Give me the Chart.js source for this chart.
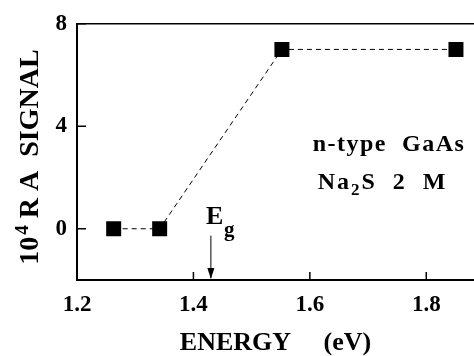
<!DOCTYPE html>
<html>
<head>
<meta charset="utf-8">
<script src="https://cdn.jsdelivr.net/npm/chart.js@4.4.1/dist/chart.umd.min.js"></script>
<style>
  html, body { margin: 0; padding: 0; background: #fff; }
  #wrap { width: 474px; height: 356px; }
</style>
</head>
<body>
<div id="wrap"><canvas id="chart"></canvas></div>
<script>
// data
var energy = [1.263, 1.342, 1.552, 1.851];
var signal = [0, 0, 7, 7];
var xTicks = [1.2, 1.4, 1.6, 1.8];
var yTicks = [0, 4, 8];
var egEnergy = 1.43;

var FONT = '"Liberation Serif", "Times New Roman", serif';

// inward ticks, top frame line, y title, labels and Eg arrow
var decorPlugin = {
  id: 'decor',
  afterDraw: function(chart) {
    var ctx = chart.ctx;
    var xs = chart.scales.x, ys = chart.scales.y;
    var a = chart.chartArea;
    ctx.save();
    ctx.strokeStyle = '#000';
    ctx.lineWidth = 1.5;
    ctx.beginPath();
    ctx.moveTo(a.left, a.top);
    ctx.lineTo(a.right, a.top);
    ctx.stroke();

    ctx.beginPath();
    xTicks.forEach(function(v) {
      var px = xs.getPixelForValue(v);
      ctx.moveTo(px, a.bottom);
      ctx.lineTo(px, a.bottom - 8);
    });
    yTicks.forEach(function(v) {
      var py = ys.getPixelForValue(v);
      ctx.moveTo(a.left, py);
      ctx.lineTo(a.left + 9, py);
    });
    ctx.stroke();

    // Eg arrow
    var ex = xs.getPixelForValue(egEnergy);
    var eyTop = ys.getPixelForValue(-0.27);
    ctx.lineWidth = 1;
    ctx.beginPath();
    ctx.moveTo(ex, eyTop);
    ctx.lineTo(ex, a.bottom - 2);
    ctx.stroke();
    ctx.fillStyle = '#000';
    ctx.beginPath();
    ctx.moveTo(ex - 3.5, a.bottom - 12);
    ctx.lineTo(ex + 3.5, a.bottom - 12);
    ctx.lineTo(ex, a.bottom - 1);
    ctx.closePath();
    ctx.fill();

    ctx.textBaseline = 'alphabetic';
    ctx.textAlign = 'left';
    ctx.font = 'bold 26px ' + FONT;
    ctx.fillText('E', ex - 5, ys.getPixelForValue(0.2));
    ctx.font = 'bold 21px ' + FONT;
    ctx.fillText('g', ex + 13, ys.getPixelForValue(-0.3));

    // sample labels
    ctx.letterSpacing = '1.5px';
    ctx.textAlign = 'center';
    ctx.font = 'bold 24px ' + FONT;
    ctx.fillText('n-type  GaAs', xs.getPixelForValue(1.736), ys.getPixelForValue(3.05));
    ctx.letterSpacing = '2px';
    var base2 = ys.getPixelForValue(1.55);
    var cx = xs.getPixelForValue(1.725);
    ctx.font = 'bold 24px ' + FONT;
    var wNa = ctx.measureText('Na').width;
    var wRest = ctx.measureText('S  2  M').width;
    ctx.font = 'bold 17px ' + FONT;
    var w2 = ctx.measureText('2').width;
    var x0 = cx - (wNa + w2 + wRest) / 2;
    ctx.textAlign = 'left';
    ctx.font = 'bold 24px ' + FONT;
    ctx.fillText('Na', x0, base2);
    ctx.font = 'bold 17px ' + FONT;
    ctx.fillText('2', x0 + wNa, base2 + 6);
    ctx.font = 'bold 24px ' + FONT;
    ctx.fillText('S  2  M', x0 + wNa + w2, base2);
    ctx.letterSpacing = '0px';

    // y axis title, rotated
    ctx.translate(31, 157);
    ctx.rotate(-Math.PI / 2);
    ctx.textBaseline = 'middle';
    ctx.font = 'bold 28px ' + FONT;
    var w10 = ctx.measureText('10').width;
    var wT = ctx.measureText(' R A  SIGNAL').width;
    ctx.font = 'bold 19px ' + FONT;
    var w4 = ctx.measureText('4').width + 2;
    var sx = -(w10 + w4 + wT) / 2;
    ctx.font = 'bold 28px ' + FONT;
    ctx.fillText('10', sx, 0);
    ctx.font = 'bold 19px ' + FONT;
    ctx.fillText('4', sx + w10 + 2, -8);
    ctx.font = 'bold 28px ' + FONT;
    ctx.fillText(' R A  SIGNAL', sx + w10 + w4, 0);
    ctx.restore();
  }
};

new Chart(document.getElementById('chart'), {
  type: 'scatter',
  data: {
    datasets: [{
      data: energy.map(function(e, i) { return { x: e, y: signal[i] }; }),
      showLine: true,
      borderColor: '#000',
      borderWidth: 1,
      borderDash: [5, 4],
      pointStyle: 'rect',
      pointRadius: 10.6,
      pointHoverRadius: 10.6,
      pointBackgroundColor: '#000',
      pointBorderColor: '#000',
      pointBorderWidth: 0
    }]
  },
  options: {
    responsive: true,
    maintainAspectRatio: false,
    animation: false,
    events: [],
    layout: { autoPadding: false, padding: { top: 19, right: 0, left: 0, bottom: 0 } },
    plugins: { legend: { display: false }, tooltip: { enabled: false } },
    scales: {
      x: {
        type: 'linear',
        min: 1.2,
        max: 1.882,
        afterBuildTicks: function(s) { s.ticks = xTicks.map(function(v) { return { value: v }; }); },
        afterFit: function(s) { s.height = 76; },
        grid: { display: false, drawTicks: false },
        border: { display: true, color: '#000', width: 2 },
        ticks: {
          color: '#000',
          padding: 11,
          maxRotation: 0,
          font: { family: FONT, size: 23, weight: 'bold' },
          callback: function(v) { return v.toFixed(1); }
        },
        title: {
          display: true,
          text: 'ENERGY     (eV)',
          color: '#000',
          padding: { top: 0, bottom: -3 },
          font: { family: FONT, size: 26, weight: 'bold' }
        }
      },
      y: {
        type: 'linear',
        min: -2,
        max: 8,
        afterBuildTicks: function(s) { s.ticks = yTicks.map(function(v) { return { value: v }; }); },
        afterFit: function(s) { s.width = 77; },
        grid: { display: false, drawTicks: false },
        border: { display: true, color: '#000', width: 2 },
        ticks: {
          color: '#000',
          padding: 10,
          font: { family: FONT, size: 23, weight: 'bold' }
        }
      }
    }
  },
  plugins: [decorPlugin]
});
</script>
</body>
</html>
